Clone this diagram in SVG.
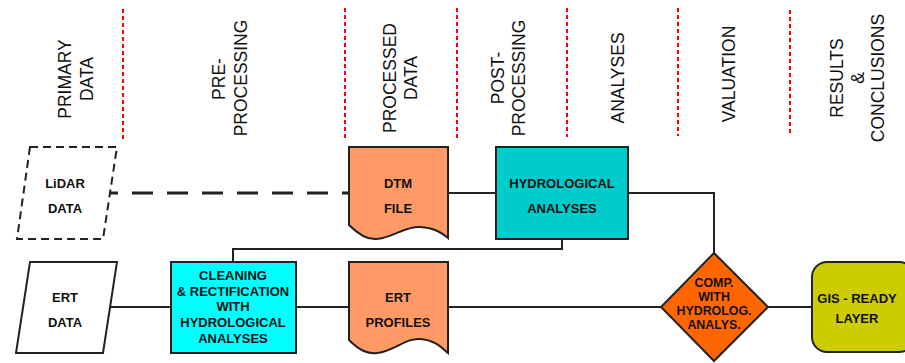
<svg xmlns="http://www.w3.org/2000/svg" width="905" height="363" viewBox="0 0 905 363">
  <style>
    .sep { stroke: #ff0000; stroke-width: 2; stroke-dasharray: 4 3; fill: none; }
    .head { font-family: "Liberation Sans", Arial, sans-serif; font-size: 17.5px; fill: #111; text-anchor: middle; }
    .shape { stroke: #222; stroke-width: 2; }
    .lbl { font-family: "Liberation Sans", Arial, sans-serif; font-size: 13px; font-weight: bold; fill: #111; text-anchor: middle; }
    .lbl-sm { font-size: 12.4px; }
    .wire { stroke: #222; stroke-width: 2; fill: none; }
    .wire-dash { stroke: #222; stroke-width: 2.8; fill: none; stroke-dasharray: 21 14; stroke-dashoffset: 13; }
  </style>

  <rect width="905" height="363" fill="#ffffff"/>

  <!-- stage separators -->
  <g id="separators">
    <line class="sep" x1="123" y1="9" x2="123" y2="141"/>
    <line class="sep" x1="345" y1="8" x2="345" y2="140"/>
    <line class="sep" x1="457" y1="8" x2="457" y2="139"/>
    <line class="sep" x1="567" y1="8" x2="567" y2="137"/>
    <line class="sep" x1="678" y1="8" x2="678" y2="136"/>
    <line class="sep" x1="790" y1="10" x2="790" y2="135"/>
  </g>

  <!-- stage headings (vertical) -->
  <g id="headings">
    <text class="head" transform="translate(71.3,79) rotate(-90)">PRIMARY</text>
    <text class="head" transform="translate(93,79) rotate(-90)">DATA</text>

    <text class="head" transform="translate(225.3,79) rotate(-90)">PRE-</text>
    <text class="head" transform="translate(247,78) rotate(-90)">PROCESSING</text>

    <text class="head" transform="translate(396.3,78) rotate(-90)">PROCESSED</text>
    <text class="head" transform="translate(417.3,78) rotate(-90)">DATA</text>

    <text class="head" transform="translate(504,78) rotate(-90)">POST-</text>
    <text class="head" transform="translate(524.5,78) rotate(-90)">PROCESSING</text>

    <text class="head" transform="translate(624.3,78) rotate(-90)">ANALYSES</text>

    <text class="head" transform="translate(735.3,74) rotate(-90)">VALUATION</text>

    <text class="head" transform="translate(843.3,78) rotate(-90)">RESULTS</text>
    <text class="head" transform="translate(864,78) rotate(-90)">&amp;</text>
    <text class="head" transform="translate(883.5,78) rotate(-90)">CONCLUSIONS</text>
  </g>

  <!-- connectors -->
  <g id="connectors">
    <path class="wire-dash" d="M110,193 H349"/>
    <path class="wire" d="M448,193 H496"/>
    <path class="wire" d="M628,193 H714 V253"/>
    <path class="wire" d="M110,307 H171"/>
    <path class="wire" d="M296,307 H349"/>
    <path class="wire" d="M448,307 H661"/>
    <path class="wire" d="M768,307 H812"/>
    <path class="wire" d="M233,262 V249 H562 V239"/>
  </g>

  <!-- nodes -->
  <g id="lidar-data">
    <polygon points="30,147 117,147 103,239 17,239" fill="#ffffff" stroke="#222" stroke-width="2" stroke-dasharray="8 5"/>
    <text class="lbl" x="65" y="187.7">LiDAR</text>
    <text class="lbl" x="65" y="212.7">DATA</text>
  </g>

  <g id="ert-data">
    <polygon class="shape" points="30,262 117,262 103,353 16,353" fill="#ffffff"/>
    <text class="lbl" x="65" y="301.7">ERT</text>
    <text class="lbl" x="65" y="326.7">DATA</text>
  </g>

  <g id="cleaning">
    <rect class="shape" x="171" y="262" width="125" height="91" fill="#00ffff"/>
    <text class="lbl" x="233" y="279.7">CLEANING</text>
    <text class="lbl" x="233" y="295.5">&amp; RECTIFICATION</text>
    <text class="lbl" x="233" y="311.2">WITH</text>
    <text class="lbl" x="233" y="327">HYDROLOGICAL</text>
    <text class="lbl" x="233" y="342.7">ANALYSES</text>
  </g>

  <g id="dtm-file">
    <path class="shape" fill="#ff9966" d="M349,147 H448 V238 C442,233 435,228 420,227 C405,226 395,237 377,239 C368,240 360,236 349,225 Z"/>
    <text class="lbl" x="398" y="187.7">DTM</text>
    <text class="lbl" x="398" y="212.7">FILE</text>
  </g>

  <g id="ert-profiles">
    <path class="shape" fill="#ff9966" d="M349,262 H448 V353 C442,348 435,340 420,339 C405,338 395,351 377,353 C368,354 360,351 349,340 Z"/>
    <text class="lbl" x="398" y="301.7">ERT</text>
    <text class="lbl" x="398" y="326.7">PROFILES</text>
  </g>

  <g id="hydrological-analyses">
    <rect class="shape" x="496" y="147" width="132" height="92" fill="#00cccc"/>
    <text class="lbl" x="562" y="187.7">HYDROLOGICAL</text>
    <text class="lbl" x="562" y="212.7">ANALYSES</text>
  </g>

  <g id="comparison">
    <polygon class="shape" points="714,253 768,307 714,361 661,307" fill="#ff6600"/>
    <text class="lbl lbl-sm" x="714" y="286.5">COMP.</text>
    <text class="lbl lbl-sm" x="714" y="300.8">WITH</text>
    <text class="lbl lbl-sm" x="714" y="315.1">HYDROLOG.</text>
    <text class="lbl lbl-sm" x="714" y="329.4">ANALYS.</text>
  </g>

  <g id="gis-layer">
    <rect class="shape" x="812" y="262" width="102" height="90" rx="15" fill="#cccc00"/>
    <text class="lbl" x="857" y="302.7">GIS - READY</text>
    <text class="lbl" x="857" y="322.7">LAYER</text>
  </g>
</svg>
